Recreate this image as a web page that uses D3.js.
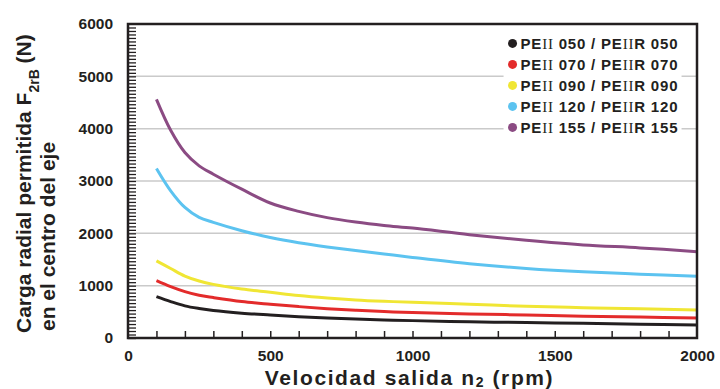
<!DOCTYPE html>
<html>
<head>
<meta charset="utf-8">
<script src="https://cdn.jsdelivr.net/npm/d3@7"></script>
<style>
  html, body { margin: 0; padding: 0; background: #fff; }
  svg text { font-family: "Liberation Sans", Arial, sans-serif; font-weight: bold; fill: #231f20; }
</style>
</head>
<body>
<svg id="chart"></svg>
<script>
// Chart data
const rpm = [100, 150, 200, 250, 300, 400, 500, 600, 700, 800, 900, 1000, 1200, 1400, 1600, 1800, 2000];
const pe050 = [790, 696, 614, 563, 525, 475, 440, 408, 382, 362, 345, 332, 310, 295, 280, 265, 250];
const pe070 = [1095, 981, 886, 816, 772, 696, 645, 600, 560, 530, 505, 488, 460, 440, 415, 400, 382];
const pe090 = [1475, 1329, 1183, 1089, 1025, 937, 875, 812, 765, 728, 702, 682, 645, 605, 580, 558, 535];
const pe120 = [3240, 2813, 2495, 2305, 2210, 2050, 1920, 1820, 1740, 1670, 1605, 1540, 1420, 1330, 1265, 1220, 1180];
const pe155 = [4559, 3968, 3543, 3289, 3130, 2844, 2580, 2420, 2300, 2215, 2150, 2100, 1975, 1867, 1778, 1722, 1650];

const seriesNames = ["050", "070", "090", "120", "155"];
const seriesColors = ["#231f20", "#e32b2b", "#f0e634", "#5cc3f0", "#8b4b83"];
const seriesValues = [pe050, pe070, pe090, pe120, pe155];

const xTickLabels = [0, 500, 1000, 1500, 2000];
const yTickLabels = [0, 1000, 2000, 3000, 4000, 5000, 6000];

const W = 720, H = 389;
const margin = { top: 24, right: 23, bottom: 51, left: 128 };
const width = W - margin.left - margin.right;
const height = H - margin.top - margin.bottom;

const svg = d3.select("#chart").attr("width", W).attr("height", H);
const g = svg.append("g").attr("transform", `translate(${margin.left},${margin.top})`);

const x = d3.scaleLinear().domain([0, 2000]).range([0, width]);
const y = d3.scaleLinear().domain([0, 6000]).range([height, 0]);

// gridlines
g.append("g")
  .selectAll("line")
  .data(yTickLabels.filter((d) => d > 0 && d < 6000))
  .join("line")
  .attr("x1", 0).attr("x2", width)
  .attr("y1", (d) => y(d)).attr("y2", (d) => y(d))
  .attr("stroke", "#cacaca").attr("stroke-width", 1.5);

// inner ticks
g.append("g")
  .call(d3.axisBottom(x).tickValues(d3.range(100, 2000, 100)).tickSize(-7).tickFormat(""))
  .attr("transform", `translate(0,${height})`)
  .call((a) => a.select(".domain").remove())
  .call((a) => a.selectAll("line").attr("stroke", "#231f20").attr("stroke-width", 1.5));

g.append("g")
  .call(d3.axisLeft(y).tickValues(d3.range(0, 6000, 200 / 3)).tickSize(-8).tickFormat(""))
  .call((a) => a.select(".domain").remove())
  .call((a) => a.selectAll("line").attr("stroke", "#231f20").attr("stroke-width", 1.3));

// tick labels
g.append("g")
  .call(d3.axisBottom(x).tickValues(xTickLabels).tickSize(0).tickPadding(12).tickFormat(d3.format("d")))
  .attr("transform", `translate(0,${height})`)
  .call((a) => a.select(".domain").remove())
  .call((a) => a.selectAll("text").style("font-size", "15.5px").attr("fill", "#231f20"));

g.append("g")
  .call(d3.axisLeft(y).tickValues(yTickLabels).tickSize(0).tickPadding(15).tickFormat(d3.format("d")))
  .call((a) => a.select(".domain").remove())
  .call((a) => a.selectAll("text").style("font-size", "15.5px").attr("fill", "#231f20"));

// legend background
const legend = g.append("g").attr("transform", `translate(${x(1320)},${y(5820)})`);
legend.append("rect").attr("x", 0).attr("y", 0).attr("width", 178).attr("height", 104).attr("fill", "#fff");

// curves
const line = d3.line()
  .x((d, i) => x(rpm[i]))
  .y((d) => y(d))
  .curve(d3.curveCatmullRom.alpha(0.5));

g.append("g")
  .selectAll("path")
  .data(seriesValues)
  .join("path")
  .attr("d", line)
  .attr("fill", "none")
  .attr("stroke", (d, i) => seriesColors[i])
  .attr("stroke-width", 3);

// legend items
const item = legend.selectAll("g.item")
  .data(seriesNames)
  .join("g")
  .attr("class", "item")
  .attr("transform", (d, i) => `translate(0,${10 + i * 21})`);
item.append("circle").attr("cx", 9).attr("cy", 0).attr("r", 4.5).attr("fill", (d, i) => seriesColors[i]);
const label = item.append("text").attr("x", 17).attr("y", 5.5)
  .style("font-size", "15px").style("letter-spacing", "0.8px");
label.append("tspan").text("PE");
label.append("tspan").style("font-family", "'Liberation Serif', serif").style("font-weight", "normal").text("II");
label.append("tspan").text((d) => ` ${d} / PE`);
label.append("tspan").style("font-family", "'Liberation Serif', serif").style("font-weight", "normal").text("II");
label.append("tspan").text((d) => `R ${d}`);

// frame
g.append("rect")
  .attr("x", 0).attr("y", 0).attr("width", width).attr("height", height)
  .attr("fill", "none").attr("stroke", "#231f20").attr("stroke-width", 2.5);

// axis titles
svg.append("text")
  .attr("x", margin.left + width / 2 - 3)
  .attr("y", 385)
  .attr("text-anchor", "middle")
  .style("font-size", "21px")
  .style("letter-spacing", "1.6px")
  .html('Velocidad salida n<tspan dy="2" font-size="14px">2</tspan><tspan dy="-2"> (rpm)</tspan>');

const yTitle = svg.append("text")
  .attr("transform", "translate(31,333) rotate(-90)")
  .style("font-size", "21px");
yTitle.append("tspan").attr("x", 0).attr("y", 0).text("Carga radial permitida F");
yTitle.append("tspan").attr("baseline-shift", "sub").style("font-size", "14px").text("2rB");
yTitle.append("tspan").text(" (N)");

svg.append("text")
  .attr("transform", "translate(55,331) rotate(-90)")
  .style("font-size", "21px")
  .text("en el centro del eje");
</script>
</body>
</html>
